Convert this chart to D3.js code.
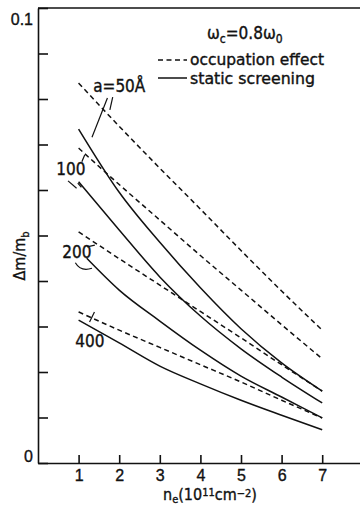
<!DOCTYPE html>
<html>
<head>
<meta charset="utf-8">
<script src="https://cdn.jsdelivr.net/npm/d3@7"></script>
<style>
  body { margin: 0; background: #fff; }
  svg { display: block; font-family: "DejaVu Sans Condensed", "DejaVu Sans", sans-serif; font-stretch: condensed; }
  text { stroke: #111; stroke-width: 0.35px; }
</style>
</head>
<body>
<div id="chart"></div>
<script>
// electron density n_e (10^11 cm^-2)
const densities = [1, 2, 3, 4, 5, 6, 7];
const densities200 = [1.2, 2, 3, 4, 5, 6, 7];

// occupation effect (dashed)
const occ50 = [0.0835, 0.0740, 0.0648, 0.0558, 0.0467, 0.0378, 0.0292];
const occ100 = [0.0692, 0.0612, 0.0534, 0.0456, 0.0380, 0.0304, 0.0229];
const occ200 = [0.0508, 0.0449, 0.0391, 0.0333, 0.0275, 0.0216, 0.0158];
const occ400 = [0.0332, 0.0292, 0.0254, 0.0216, 0.0178, 0.0138, 0.0099];

// static screening (solid)
const scr50 = [0.0734, 0.0595, 0.0485, 0.0385, 0.0295, 0.0220, 0.0158];
const scr100 = [0.0618, 0.0512, 0.0409, 0.0323, 0.0251, 0.0189, 0.0132];
const scr200 = [0.0450, 0.0380, 0.0312, 0.0248, 0.0191, 0.0145, 0.0099];
const scr400 = [0.0314, 0.0264, 0.0213, 0.0174, 0.0138, 0.0105, 0.0073];

const yEndLabels = ['0', '0.1'];

const width = 360, height = 506;

const svg = d3.select('#chart')
  .append('svg')
  .attr('width', width)
  .attr('height', height)
  .attr('viewBox', [0, 0, width, height]);

const x = d3.scaleLinear().domain([0, 8]).range([38, 362.8]);
const y = d3.scaleLinear().domain([0, 0.1]).range([463, 8]);

const ink = '#111';

// axes
const xAxis = svg.append('g')
  .attr('transform', `translate(0,${y(0)})`)
  .call(d3.axisBottom(x).tickValues(densities).tickSize(-8).tickSizeOuter(0).tickPadding(7).tickFormat(d3.format('d')));

const yAxis = svg.append('g')
  .attr('transform', `translate(${x(0)},0)`)
  .call(d3.axisLeft(y).ticks(10).tickSize(-10).tickSizeOuter(0).tickPadding(5)
    .tickFormat(d => d === 0 ? yEndLabels[0] : (Math.abs(d - 0.1) < 1e-9 ? yEndLabels[1] : '')));

[xAxis, yAxis].forEach(g => {
  g.selectAll('path, line').attr('stroke', ink).attr('stroke-width', 1.6);
  g.selectAll('text').attr('fill', ink).style('font-size', '16px').attr('font-family', null);
});
yAxis.selectAll('.tick text')
  .attr('dy', d => d === 0 ? '-0.12em' : '1.05em');

// top frame line
svg.append('line')
  .attr('x1', x(0)).attr('x2', x(8))
  .attr('y1', y(0.1)).attr('y2', y(0.1))
  .attr('stroke', ink).attr('stroke-width', 1.6);

// curves
const line = d3.line()
  .x(d => x(d[0]))
  .y(d => y(d[1]))
  .curve(d3.curveMonotoneX);

const series = [
  { xs: densities, vs: occ50, dashed: true },
  { xs: densities, vs: occ100, dashed: true },
  { xs: densities, vs: occ200, dashed: true },
  { xs: densities, vs: occ400, dashed: true },
  { xs: densities, vs: scr50, dashed: false },
  { xs: densities, vs: scr100, dashed: false },
  { xs: densities200, vs: scr200, dashed: false },
  { xs: densities, vs: scr400, dashed: false }
];

svg.append('g')
  .selectAll('path')
  .data(series)
  .join('path')
  .attr('d', s => line(s.xs.map((xv, i) => [xv, s.vs[i]])))
  .attr('fill', 'none')
  .attr('stroke', ink)
  .attr('stroke-width', 1.5)
  .attr('stroke-dasharray', s => s.dashed ? '5,3.5' : null);

// curve labels with pointer strokes
const label = svg.append('g').attr('fill', ink).style('font-size', '17px');

const a50 = label.append('text').attr('x', x(1.36)).attr('y', y(0.0815));
a50.append('tspan').text('a=50');
a50.append('tspan').text('Å');

label.append('text').attr('x', x(0.45)).attr('y', y(0.0632)).text('100');
label.append('text').attr('x', x(0.60)).attr('y', y(0.0451)).text('200');
label.append('text').attr('x', x(0.92)).attr('y', y(0.0256)).text('400');

const pointers = [
  [[1.71, 0.0802], [1.33, 0.0716]],
  [[1.84, 0.0804], [1.77, 0.0776]],
  [[1.08, 0.0662], [1.15, 0.0677]],
  [[0.74, 0.0620], [0.95, 0.0604]],
  [[0.98, 0.0615], [1.07, 0.0606]],
  [[1.21, 0.0475], [1.40, 0.0479]],
  [[1.27, 0.0310], [1.39, 0.0332]]
];

svg.append('g')
  .selectAll('path')
  .data(pointers)
  .join('path')
  .attr('d', d => d3.line()(d.map(p => [x(p[0]), y(p[1])])))
  .attr('fill', 'none')
  .attr('stroke', ink)
  .attr('stroke-width', 1.2);

// arc under "200"
svg.append('path')
  .attr('d', `M${x(0.92)},${y(0.0440)} Q${x(1.05)},${y(0.0420)} ${x(1.33)},${y(0.0428)}`)
  .attr('fill', 'none')
  .attr('stroke', ink)
  .attr('stroke-width', 1.2);

// legend
const legend = svg.append('g').attr('fill', ink).style('font-size', '17px');
const omega = legend.append('text').attr('x', 207).attr('y', 39);
omega.append('tspan').text('ω');
omega.append('tspan').attr('dy', 4).style('font-size', '12px').text('c');
omega.append('tspan').attr('dy', -4).text('=0.8ω');
omega.append('tspan').attr('dy', 4).style('font-size', '12px').text('0');

legend.append('line')
  .attr('x1', 158).attr('x2', 187).attr('y1', 60).attr('y2', 60)
  .attr('stroke', ink).attr('stroke-width', 1.5).attr('stroke-dasharray', '5,3.5');
legend.append('text').attr('x', 190).attr('y', 64.5)
  .style('font-size', '16px').attr('textLength', 134).attr('lengthAdjust', 'spacingAndGlyphs')
  .text('occupation  effect');

legend.append('line')
  .attr('x1', 158).attr('x2', 187).attr('y1', 78).attr('y2', 78)
  .attr('stroke', ink).attr('stroke-width', 1.5);
legend.append('text').attr('x', 190).attr('y', 84)
  .style('font-size', '16px').attr('textLength', 125).attr('lengthAdjust', 'spacingAndGlyphs')
  .text('static screening');

// axis titles
const xTitle = svg.append('text')
  .attr('x', 163).attr('y', 500)
  .attr('fill', ink).style('font-size', '16px');
xTitle.append('tspan').text('n');
xTitle.append('tspan').attr('dy', 3).style('font-size', '11px').text('e');
xTitle.append('tspan').attr('dy', -3).text('(10');
xTitle.append('tspan').attr('dy', -4).style('font-size', '11px').text('11');
xTitle.append('tspan').attr('dy', 4).text('cm');
xTitle.append('tspan').attr('dy', -3).style('font-size', '11px').text('−2');
xTitle.append('tspan').attr('dy', 3).text(')');

const yTitle = svg.append('text')
  .attr('transform', `translate(25,${y(0.0455)}) rotate(-90)`)
  .attr('text-anchor', 'middle')
  .attr('fill', ink).style('font-size', '16px');
yTitle.append('tspan').text('Δm/m');
yTitle.append('tspan').attr('dy', 4).style('font-size', '11px').text('b');
</script>
</body>
</html>
